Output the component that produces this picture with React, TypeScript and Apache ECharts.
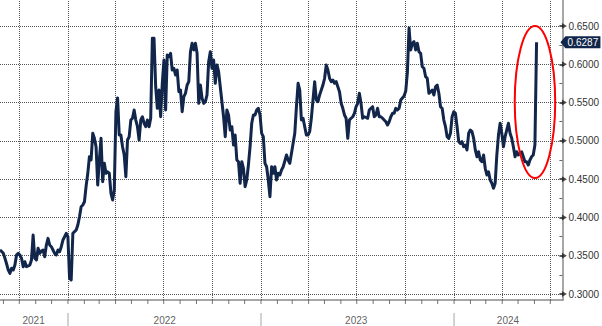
import React, { useEffect, useRef } from "react";
import * as echarts from "echarts";

// ---- time frame ----
const AXIS_START = "2021-08-25T12:00:00";
const AXIS_END = "2024-07-25T00:00:00";
const SAMPLE_START = "2021-08-25T12:00:00";
const SAMPLE_STEP_DAYS = 3.1513;

// ---- series values (regular samples) ----
const values2021 = [
  0.3575, 0.3555, 0.3531, 0.3466, 0.3392, 0.3313, 0.327, 0.3336, 0.3313, 0.3379,
  0.3509, 0.3531, 0.3509, 0.3466, 0.3357, 0.3422, 0.3357, 0.3366, 0.3379, 0.3444,
  0.377, 0.3466, 0.3444, 0.3597, 0.3531, 0.3561, 0.3575, 0.3487, 0.364, 0.3727,
  0.364, 0.3618, 0.3575, 0.3531, 0.3509, 0.3575, 0.3552, 0.3618, 0.3705, 0.3748,
  0.3793,
];
const values2022 = [
  0.3748, 0.3205, 0.3183, 0.3793, 0.3814, 0.3836, 0.3901, 0.4009, 0.414, 0.4162,
  0.4205, 0.441, 0.4576, 0.4793, 0.475, 0.5099, 0.5033, 0.4924, 0.4423, 0.475,
  0.5033, 0.4467, 0.4707, 0.4576, 0.4597, 0.4576, 0.4315, 0.4228, 0.4358, 0.5381,
  0.556, 0.5076, 0.5076, 0.4924, 0.4815, 0.4532, 0.5011, 0.5054, 0.5272, 0.5295,
  0.5403, 0.5272, 0.5185, 0.5011, 0.5272, 0.5315, 0.5229, 0.5185, 0.5272, 0.5185,
  0.5295, 0.6339, 0.6339, 0.5707, 0.5425, 0.5664, 0.5315, 0.5752, 0.6056, 0.5403,
  0.6121, 0.6099, 0.6143, 0.5925, 0.5948, 0.586, 0.5925, 0.5642, 0.5664, 0.5381,
  0.5577, 0.5621, 0.5729, 0.5773, 0.6164, 0.6274, 0.6187, 0.6274, 0.6143, 0.549,
  0.5729, 0.5556, 0.549, 0.5511, 0.5599, 0.6034, 0.6164, 0.5948, 0.6056, 0.5752,
  0.5991, 0.5903, 0.5707, 0.5511, 0.5315, 0.5054, 0.5403, 0.5338, 0.5142, 0.5185,
  0.4946, 0.5076, 0.475, 0.4728, 0.4446, 0.4728, 0.4642, 0.4401, 0.4489, 0.4685,
  0.4924, 0.5229, 0.5338, 0.5338, 0.5403, 0.5425, 0.5338,
];
const values2023 = [
  0.5099, 0.5054, 0.4707, 0.4662, 0.4489, 0.4271, 0.4662, 0.4576, 0.4662, 0.4489,
  0.4576, 0.4554, 0.4619, 0.4662, 0.4737, 0.4815, 0.475, 0.4707, 0.4837, 0.4968,
  0.5099, 0.5446, 0.5752, 0.5664, 0.5272, 0.5295, 0.5185, 0.5076, 0.5076, 0.512,
  0.5295, 0.5534, 0.5773, 0.5534, 0.5511, 0.5599, 0.5664, 0.5729, 0.5817, 0.5991,
  0.5925, 0.5817, 0.5773, 0.5795, 0.5752, 0.5773, 0.5707, 0.5642, 0.549, 0.5425,
  0.5338, 0.5295, 0.5033, 0.5272, 0.5295, 0.5315, 0.536, 0.5446, 0.549, 0.5621,
  0.549, 0.5295, 0.5315, 0.5305, 0.5295, 0.5403, 0.5425, 0.5446, 0.5315, 0.5338,
  0.5425, 0.5315, 0.5315, 0.5295, 0.5272, 0.525, 0.5207, 0.525, 0.5315, 0.536,
  0.536, 0.5425, 0.5403, 0.5425, 0.5534, 0.556, 0.5586, 0.5651, 0.5899, 0.6474,
  0.6187, 0.6274, 0.6295, 0.6187, 0.6274, 0.6164, 0.6143, 0.5968, 0.5948, 0.5838,
  0.5817, 0.5621, 0.5642, 0.5664, 0.5599, 0.5707, 0.5729, 0.5621, 0.5446, 0.5425,
  0.5272, 0.5185, 0.5054, 0.5033, 0.5099,
];
const values2024 = [
  0.5315, 0.5381, 0.536, 0.5185, 0.4989, 0.4968, 0.4989, 0.4924, 0.4946, 0.4881,
  0.5099, 0.5142, 0.512, 0.5033, 0.4881, 0.4793, 0.4858, 0.475, 0.4728, 0.4815,
  0.4642, 0.4554, 0.4597, 0.4489, 0.4446, 0.438, 0.4446, 0.4815, 0.5076, 0.5229,
  0.5099, 0.4924, 0.5054, 0.5142, 0.5229, 0.5099, 0.5033, 0.4924, 0.4793, 0.4858,
  0.4815, 0.4837, 0.4858, 0.4793, 0.4728, 0.4728, 0.4685, 0.475, 0.4793, 0.4815,
  0.4946, 0.6287,
];
const LAST_VALUE = 0.6287;

// ---- axes ----
const Y_MIN = 0.3;
const Y_MAX = 0.65;
const Y_INTERVAL = 0.05;
const Y_TICKS = [0.3, 0.35, 0.4, 0.45, 0.5, 0.55, 0.6, 0.65];
const QUARTER_STARTS = [
  "2021-10-01", "2022-01-01", "2022-04-01", "2022-07-01", "2022-10-01",
  "2023-01-01", "2023-04-01", "2023-07-01", "2023-10-01", "2024-01-01",
  "2024-04-01", "2024-07-01",
];
const YEAR_STARTS = ["2022-01-01", "2023-01-01", "2024-01-01"];
const YEAR_LABELS = ["2021", "2022", "2023", "2024"];
const YEAR_LABEL_DATES = ["2021-10-28", "2022-07-03", "2023-06-30", "2024-04-12"];
const MONTH_FIRST = { year: 2021, month: 9 };
const MONTH_LAST = { year: 2024, month: 7 };

// ---- annotation ----
const ELLIPSE_BOUNDS = { left: "2024-05-01", right: "2024-07-17", top: 0.65, bottom: 0.4515 };

const FONT = "'Liberation Sans', Arial, sans-serif";
const LINE_COLOR = "#11264a";

const ts = (s: string) => new Date(s.length === 10 ? s + "T00:00:00" : s).getTime();

function monthStarts(): string[] {
  const out: string[] = [];
  let y = MONTH_FIRST.year;
  let m = MONTH_FIRST.month;
  while (y < MONTH_LAST.year || (y === MONTH_LAST.year && m <= MONTH_LAST.month)) {
    out.push(`${y}-${String(m).padStart(2, "0")}-01`);
    m++;
    if (m > 12) {
      m = 1;
      y++;
    }
  }
  return out;
}

export default function App() {
  const ref = useRef<HTMLDivElement>(null);

  useEffect(() => {
    if (!ref.current) return;
    const chart = echarts.init(ref.current, undefined, { renderer: "svg" });
    const values = [...values2021, ...values2022, ...values2023, ...values2024];
    const start = ts(SAMPLE_START);
    const step = SAMPLE_STEP_DAYS * 86400000;
    const lineData = values.map((v, i) => [start + i * step, v]);
    const xMin = ts(AXIS_START);
    const xMax = ts(AXIS_END);

    chart.setOption({
      animation: false,
      backgroundColor: "#ffffff",
      grid: [
        { left: 0, right: 39, top: 26, bottom: 32 },
        { left: 0, right: 39, top: 0, bottom: 26 },
      ],
      xAxis: [
        { type: "time", gridIndex: 0, min: xMin, max: xMax, show: false },
        {
          type: "time",
          gridIndex: 1,
          min: xMin,
          max: xMax,
          axisLine: { show: true, onZero: false, lineStyle: { color: "#8a8a8a", width: 1.5 } },
          axisTick: { show: false },
          axisLabel: { show: false },
          splitLine: { show: false },
        },
      ],
      yAxis: [
        {
          type: "value",
          gridIndex: 0,
          position: "right",
          min: Y_MIN,
          max: Y_MAX,
          interval: Y_INTERVAL,
          axisLine: { show: false },
          axisTick: { show: true, length: 4, lineStyle: { color: "#222", width: 1.5 } },
          minorTick: { show: true, splitNumber: 2, length: 3, lineStyle: { color: "#666", width: 1 } },
          axisLabel: {
            show: true,
            margin: 9,
            color: "#333",
            fontSize: 10,
            fontFamily: FONT,
            formatter: (v: number) => v.toFixed(4),
          },
          splitLine: { show: true, lineStyle: { color: "#555", type: [1, 1], width: 1 } },
        },
        {
          type: "value",
          gridIndex: 1,
          position: "right",
          min: 0,
          max: 1,
          axisLine: { show: true, onZero: false, lineStyle: { color: "#8a8a8a", width: 1.5 } },
          axisTick: { show: false },
          axisLabel: { show: false },
          splitLine: { show: false },
        },
      ],
      series: [
        {
          type: "scatter",
          name: "monthTicks",
          xAxisIndex: 1,
          yAxisIndex: 1,
          silent: true,
          clip: false,
          z: 1,
          symbol: "rect",
          symbolSize: [1, 4],
          symbolOffset: [0, 2],
          itemStyle: { color: "#555" },
          data: monthStarts().map((d) => [ts(d), 0]),
          markLine: {
            silent: true,
            symbol: ["none", "none"],
            label: { show: false },
            lineStyle: { color: "#555", type: [1, 1], width: 1 },
            data: QUARTER_STARTS.map((d) => ({ xAxis: ts(d) })),
          },
        },
        {
          type: "scatter",
          name: "yearSeparators",
          xAxisIndex: 1,
          yAxisIndex: 1,
          silent: true,
          clip: false,
          z: 1,
          symbol: "rect",
          symbolSize: [1.5, 13],
          symbolOffset: [0, 19.5],
          itemStyle: { color: "#b4b4b4" },
          data: YEAR_STARTS.map((d) => [ts(d), 0]),
        },
        {
          type: "scatter",
          name: "yearLabels",
          xAxisIndex: 1,
          yAxisIndex: 1,
          silent: true,
          clip: false,
          z: 1,
          symbol: "circle",
          symbolSize: 1,
          itemStyle: { color: "rgba(0,0,0,0)" },
          label: {
            show: true,
            position: "inside",
            offset: [0, 20],
            color: "#333",
            fontSize: 10,
            fontFamily: FONT,
            formatter: "{b}",
          },
          data: YEAR_LABELS.map((y, i) => ({ name: y, value: [ts(YEAR_LABEL_DATES[i]), 0] })),
        },
        {
          type: "scatter",
          name: "tickArrows",
          xAxisIndex: 0,
          yAxisIndex: 0,
          silent: true,
          clip: false,
          z: 6,
          symbol: "triangle",
          symbolRotate: -90,
          symbolSize: [6, 5],
          symbolOffset: [5, 0],
          itemStyle: { color: "#222" },
          data: Y_TICKS.map((v) => [xMax, v]),
        },
        {
          type: "line",
          name: "value",
          xAxisIndex: 0,
          yAxisIndex: 0,
          z: 5,
          clip: false,
          showSymbol: false,
          symbol: "none",
          lineStyle: { color: LINE_COLOR, width: 3, join: "round" },
          data: lineData,
          markPoint: {
            silent: true,
            symbol: "path://M0,6L5,0L40,0L40,12L5,12Z",
            symbolSize: [40, 12],
            symbolKeepAspect: false,
            symbolOffset: [21, 0],
            itemStyle: { color: LINE_COLOR },
            label: {
              show: true,
              position: "inside",
              offset: [2.5, 0],
              color: "#ffffff",
              fontSize: 10,
              fontFamily: FONT,
              formatter: LAST_VALUE.toFixed(4),
            },
            data: [{ coord: [xMax, LAST_VALUE], value: LAST_VALUE }],
          },
        },
      ],
    });

    const p1 = chart.convertToPixel({ gridIndex: 0 }, [ts(ELLIPSE_BOUNDS.left), ELLIPSE_BOUNDS.top]) as number[];
    const p2 = chart.convertToPixel({ gridIndex: 0 }, [ts(ELLIPSE_BOUNDS.right), ELLIPSE_BOUNDS.bottom]) as number[];
    if (p1 && p2) {
      chart.setOption({
        graphic: [
          {
            type: "ellipse",
            silent: true,
            z: 100,
            shape: {
              cx: (p1[0] + p2[0]) / 2,
              cy: (p1[1] + p2[1]) / 2,
              rx: Math.abs(p2[0] - p1[0]) / 2,
              ry: Math.abs(p2[1] - p1[1]) / 2,
            },
            style: { fill: "none", stroke: "#ff0000", lineWidth: 2 },
          },
        ],
      });
    }

    return () => chart.dispose();
  }, []);

  return (
    <div
      ref={ref}
      style={{ position: "fixed", left: 0, top: 0, width: 602, height: 326, background: "#fff" }}
    />
  );
}
